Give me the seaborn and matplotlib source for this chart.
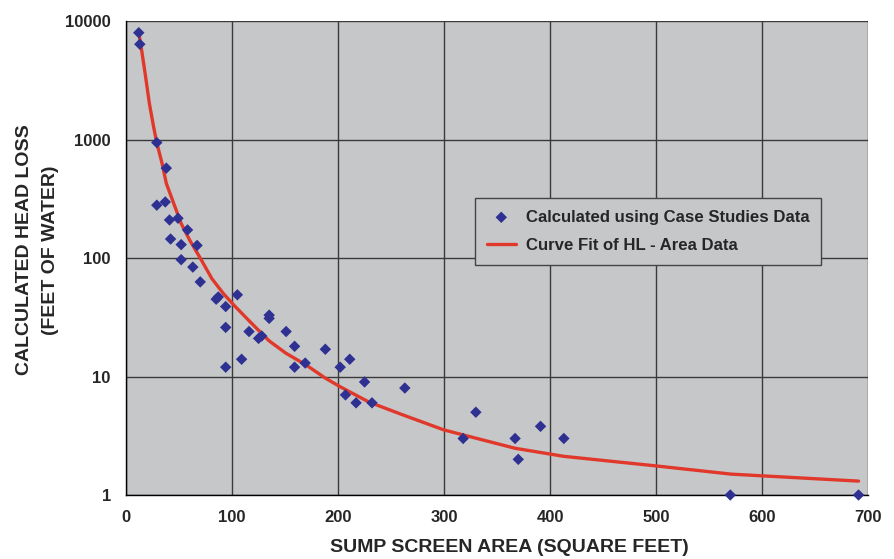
import numpy as np
import pandas as pd
import matplotlib
matplotlib.use("Agg")
import matplotlib.pyplot as plt
import seaborn as sns

# case study points (area in sq ft, head loss in ft of water)
area = [12, 13, 29, 38, 29, 37, 41, 49, 58, 42, 52, 67, 52, 63, 70, 85, 87, 94, 105, 94,
        94, 109, 116, 125, 128, 135, 135, 151, 159, 159, 169, 188, 202, 211, 225, 207, 217,
        232, 263, 318, 330, 367, 370, 391, 413, 570, 691]
head_loss = [8000, 6400, 945, 575, 280, 298, 210, 217, 173, 145, 130, 128, 97, 84, 63, 45,
             47, 39, 49, 26, 12, 14, 24, 21, 22, 33, 31, 24, 18, 12, 13, 17, 12, 14, 9, 7, 6,
             6, 8, 3, 5, 3, 2, 3.8, 3, 1, 1]

# curve fit
fit_area = [12, 14, 18, 22, 26, 29, 34, 38, 45, 52, 60, 70, 81, 92, 103, 117, 135, 151,
            170, 188, 202, 229, 261, 300, 367, 413, 500, 571, 691]
fit_hl = [8000, 6270, 3620, 2020, 1283, 940, 630, 427, 289, 196, 142, 100, 67, 50, 39, 29,
          20, 15.7, 12.5, 9.7, 8.2, 6.1, 4.75, 3.54, 2.48, 2.12, 1.76, 1.5, 1.31]

xticks = [0, 100, 200, 300, 400, 500, 600, 700]
yticks = [1, 10, 100, 1000, 10000]

pts = pd.DataFrame({"area": area, "hl": head_loss})
fit = pd.DataFrame({"area": fit_area, "hl": fit_hl})

sns.set_style("white", {"axes.facecolor": "#C6C7C9"})
plt.rcParams["font.family"] = ["Liberation Sans", "DejaVu Sans"]
plt.rcParams["font.weight"] = "bold"

fig = plt.figure(figsize=(8.94, 5.59), dpi=100)
ax = fig.add_axes([0.141, 0.1145, 0.830, 0.8475])

sns.lineplot(data=fit, x="area", y="hl", ax=ax, color="#E0392B", lw=2.4,
             label="Curve Fit of HL - Area Data", zorder=3, sort=False)
sns.scatterplot(data=pts, x="area", y="hl", ax=ax, marker="D", s=34, color="#2E3192",
                edgecolor="none", label="Calculated using Case Studies Data",
                zorder=4, clip_on=False)

ax.set_yscale("log")
ax.set_xlim(0, 700)
ax.set_ylim(1, 10000)
ax.set_xticks(xticks)
ax.set_yticks(yticks)
ax.set_yticklabels([str(v) for v in yticks])
ax.minorticks_off()
ax.grid(True, color="#3a3a3a", lw=1.0)
ax.set_axisbelow(True)

for s in ["top", "right"]:
    ax.spines[s].set_visible(False)
for s in ["left", "bottom"]:
    ax.spines[s].set_color("black")
    ax.spines[s].set_linewidth(1.0)

ax.tick_params(axis="both", which="major", direction="out", length=5, width=1,
               color="black", labelsize=12, pad=6)
for lab in ax.get_xticklabels() + ax.get_yticklabels():
    lab.set_fontweight("bold")

ax.set_xlabel("SUMP SCREEN AREA (SQUARE FEET)", fontsize=14, fontweight="bold")
ax.xaxis.set_label_coords(0.516, -0.093)
ax.set_ylabel("CALCULATED HEAD LOSS\n(FEET OF WATER)", fontsize=14, fontweight="bold",
              linespacing=1.75)
ax.yaxis.set_label_coords(-0.090, 0.517)

h, l = ax.get_legend_handles_labels()
leg = ax.legend(h[::-1], l[::-1], loc="upper left", bbox_to_anchor=(0.470, 0.627),
                frameon=True, fancybox=False, framealpha=1, edgecolor="#444444",
                prop={"weight": "bold", "size": 12.1}, borderpad=0.7, labelspacing=0.8,
                handlelength=1.75, handletextpad=0.6, borderaxespad=0)
leg.get_frame().set_linewidth(1.0)

fig.savefig("out.png", dpi=100)
